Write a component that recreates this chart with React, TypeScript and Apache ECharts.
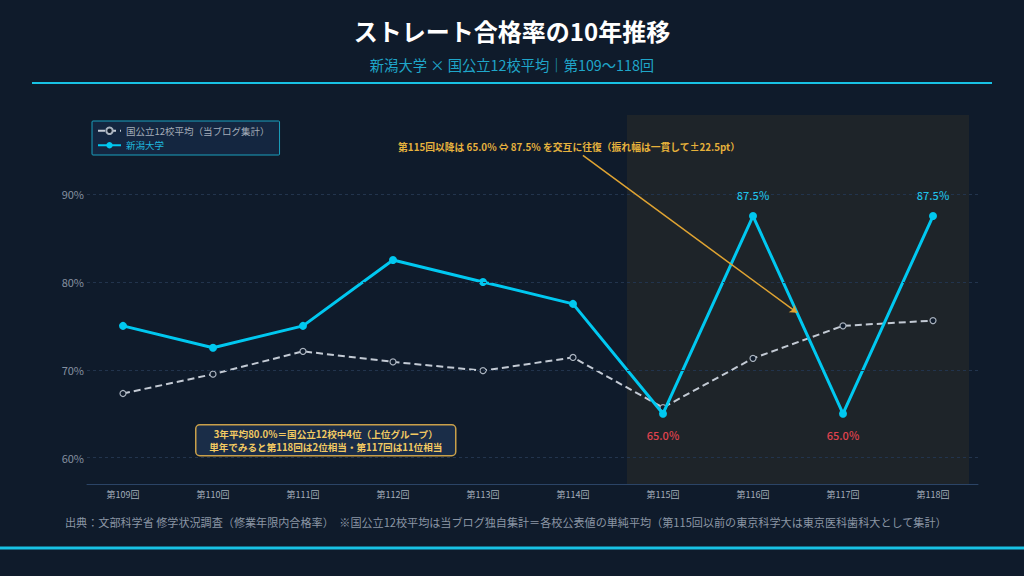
import React, { useEffect, useRef } from "react";
import * as echarts from "echarts";

const categories = ["第109回", "第110回", "第111回", "第112回", "第113回", "第114回", "第115回", "第116回", "第117回", "第118回"];
const niigata = [75.0, 72.5, 75.0, 82.5, 80.0, 77.5, 65.0, 87.5, 65.0, 87.5];
const avg12 = [67.3, 69.5, 72.1, 70.9, 69.9, 71.4, 65.7, 71.3, 75.0, 75.6];
const gridValues = [60, 70, 80, 90];
const highlightRange = [5.6, 9.4];
const labeledFrom = 6;

const FONT = '"Noto Sans CJK JP", "Noto Sans", sans-serif';
const BG = "#0f1b2b";
const CYAN = "#00c8f0";

export default function App() {
  const ref = useRef<HTMLDivElement>(null);
  useEffect(() => {
    if (!ref.current) return;
    const chart = echarts.init(ref.current, undefined, { renderer: "svg" });
    const niigataData = niigata.map((v, i) => {
      if (i < labeledFrom) return [i, v];
      const high = v >= 80;
      return {
        value: [i, v],
        label: {
          show: true,
          position: high ? "top" : "bottom",
          distance: 12,
          color: high ? "#1fc0e6" : "#e0434f",
          fontSize: 11,
          fontWeight: 500,
          fontFamily: FONT,
          formatter: (p: any) => p.value[1].toFixed(1) + "%",
        },
      };
    });
    const option: any = {
      animation: false,
      backgroundColor: BG,
      textStyle: { fontFamily: FONT },
      title: [
        {
          text: "ストレート合格率の10年推移",
          left: "center",
          top: 13,
          textStyle: { color: "#ffffff", fontSize: 24, fontWeight: "bold", fontFamily: FONT },
        },
        {
          text: "新潟大学 × 国公立12校平均｜第109〜118回",
          left: "center",
          top: 52,
          textStyle: { color: "#1fa6c9", fontSize: 14.3, fontWeight: "normal", fontFamily: FONT },
        },
      ],
      legend: {
        left: 92,
        top: 121,
        orient: "vertical",
        itemWidth: 23,
        itemHeight: 8,
        itemGap: 5,
        padding: [5, 10, 5, 5],
        backgroundColor: "#142640",
        borderColor: "#1b9fbd",
        borderWidth: 1,
        borderRadius: 1,
        textStyle: { fontSize: 9.5, fontFamily: FONT },
        data: [
          { name: "国公立12校平均（当ブログ集計）", textStyle: { color: "#a4adb9" } },
          { name: "新潟大学", textStyle: { color: "#1fb8de" } },
        ],
      },
      grid: { left: 87, right: 46, top: 115, bottom: 92 },
      xAxis: {
        type: "value",
        min: -0.4,
        max: 9.5,
        minInterval: 1,
        maxInterval: 1,
        splitLine: { show: false },
        axisTick: { show: false },
        axisLine: { show: true, lineStyle: { color: "#2b4466", width: 1 } },
        axisLabel: {
          color: "#a3adba",
          fontSize: 9,
          margin: 6,
          fontFamily: FONT,
          formatter: (v: number) => (Number.isInteger(v) && categories[v] ? categories[v] : ""),
        },
      },
      yAxis: {
        type: "value",
        min: 57,
        max: 99,
        splitLine: { show: false },
        axisLine: { show: false },
        axisTick: { show: false },
        axisLabel: {
          color: "#8590a0",
          fontSize: 11,
          margin: 3,
          fontFamily: FONT,
          formatter: (v: number) => (gridValues.indexOf(v) >= 0 ? v + "%" : ""),
        },
      },
      graphic: [
        { type: "line", shape: { x1: 32, y1: 83, x2: 992, y2: 83 }, style: { stroke: "#18c2e4", lineWidth: 2 } },
        { type: "line", shape: { x1: 0, y1: 548, x2: 1024, y2: 548 }, style: { stroke: "#18c2e4", lineWidth: 3 } },
        {
          type: "text",
          x: 569,
          y: 147,
          style: {
            text: "第115回以降は 65.0% ⇔ 87.5% を交互に往復（振れ幅は一貫して±22.5pt）",
            fill: "#e6b23e",
            font: `bold 9.8px ${FONT}`,
            textAlign: "center",
            textVerticalAlign: "middle",
          },
        },
        {
          type: "group",
          left: 195,
          top: 424,
          children: [
            {
              type: "rect",
              shape: { x: 0, y: 0, width: 260, height: 31, r: 4 },
              style: { fill: "#1a2d48", stroke: "#c9a04a", lineWidth: 1.5 },
            },
            {
              type: "text",
              x: 130,
              y: 9,
              style: {
                text: "3年平均80.0%＝国公立12校中4位（上位グループ）",
                fill: "#f2ca62",
                font: `bold 9.6px ${FONT}`,
                textAlign: "center",
                textVerticalAlign: "middle",
              },
            },
            {
              type: "text",
              x: 130,
              y: 22.6,
              style: {
                text: "単年でみると第118回は2位相当・第117回は11位相当",
                fill: "#f2ca62",
                font: `bold 9.6px ${FONT}`,
                textAlign: "center",
                textVerticalAlign: "middle",
              },
            },
          ],
        },
        {
          type: "text",
          left: 65,
          top: 516,
          style: {
            text: "出典：文部科学省 修学状況調査（修業年限内合格率）　※国公立12校平均は当ブログ独自集計＝各校公表値の単純平均（第115回以前の東京科学大は東京医科歯科大として集計）",
            fill: "#8b96a5",
            font: `11.1px ${FONT}`,
          },
        },
      ],
      series: [
        {
          name: "国公立12校平均（当ブログ集計）",
          type: "line",
          data: avg12.map((v, i) => [i, v]),
          symbol: "circle",
          symbolSize: 6,
          lineStyle: { color: "#c3cad4", width: 2, type: [7, 4] },
          itemStyle: { color: BG, borderColor: "#aab3bf", borderWidth: 1.2 },
          z: 3,
          markArea: {
            silent: true,
            itemStyle: { color: "rgba(245,158,11,0.065)" },
            data: [[{ xAxis: highlightRange[0], yAxis: 57 }, { xAxis: highlightRange[1], yAxis: 99 }]],
          },
          markLine: {
            silent: true,
            symbol: "none",
            label: { show: false },
            lineStyle: { color: "#22344d", width: 1, type: [3, 3] },
            data: gridValues.map((v) => ({ yAxis: v })),
          },
        },
        {
          name: "新潟大学",
          type: "line",
          data: niigataData,
          symbol: "circle",
          symbolSize: 8,
          lineStyle: { color: CYAN, width: 3 },
          itemStyle: { color: CYAN },
          z: 4,
          markLine: {
            silent: true,
            symbol: ["none", "arrow"],
            symbolSize: 7,
            label: { show: false },
            lineStyle: { color: "#e0a432", width: 1.5, type: "solid" },
            data: [[{ coord: [5.11, 94.4] }, { coord: [7.49, 76.5] }]],
          },
        },
      ],
    };
    chart.setOption(option);
    return () => chart.dispose();
  }, []);
  return <div ref={ref} style={{ position: "absolute", left: 0, top: 0, width: 1024, height: 576 }} />;
}
